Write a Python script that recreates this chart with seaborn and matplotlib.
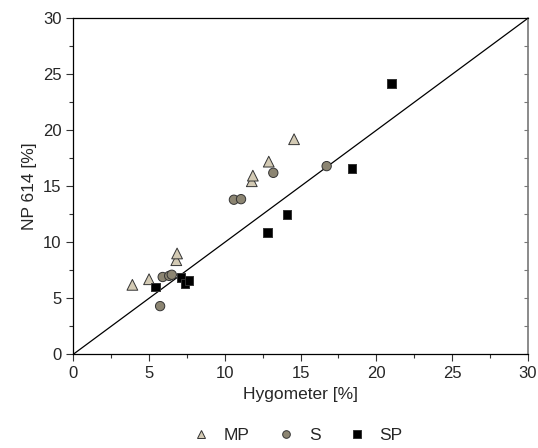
import pandas as pd
import numpy as np
import matplotlib
matplotlib.use("Agg")
import matplotlib.pyplot as plt
from matplotlib.ticker import MultipleLocator
import seaborn as sns

sns.set_style("white")
plt.rcParams['font.family'] = ['Liberation Sans', 'DejaVu Sans']

# data
mp_x = [3.9, 5.0, 6.8, 6.85, 11.78, 11.85, 12.9, 14.57]
mp_y = [6.2, 6.7, 8.4, 9.0, 15.45, 15.95, 17.2, 19.2]
s_x = [5.73, 5.9, 6.33, 6.5, 10.6, 11.07, 13.2, 16.72]
s_y = [4.3, 6.9, 7.0, 7.1, 13.8, 13.85, 16.2, 16.8]
sp_x = [5.43, 7.12, 7.38, 7.65, 12.83, 14.1, 18.4, 21.0]
sp_y = [6.0, 6.85, 6.3, 6.6, 10.85, 12.5, 16.6, 24.2]

groups = ['MP', 'S', 'SP']
df = pd.concat([
    pd.DataFrame({'x': mp_x, 'y': mp_y, 'g': 'MP'}),
    pd.DataFrame({'x': s_x, 'y': s_y, 'g': 'S'}),
    pd.DataFrame({'x': sp_x, 'y': sp_y, 'g': 'SP'}),
])

palette = {'MP': '#d3cab4', 'S': '#8c8572', 'SP': '#000000'}
markers = {'MP': '^', 'S': 'o', 'SP': 's'}
sizes = {'MP': 60, 'S': 45, 'SP': 38}

fig = plt.figure(figsize=(5.38, 4.48), dpi=100)
ax = fig.add_axes([0.1362, 0.2092, 0.845, 0.75])

ax.plot([0, 30], [0, 30], color='black', lw=0.9, zorder=1)
sns.scatterplot(data=df, x='x', y='y', hue='g', style='g', size='g',
                hue_order=groups, style_order=groups, size_order=groups,
                palette=palette, markers=markers, sizes=sizes,
                edgecolor='#333333', linewidth=0.7, ax=ax, zorder=3,
                legend=False)

ax.set_xlim(0, 30)
ax.set_ylim(0, 30)
ax.xaxis.set_major_locator(MultipleLocator(5))
ax.yaxis.set_major_locator(MultipleLocator(5))
ax.xaxis.set_minor_locator(MultipleLocator(2.5))
ax.yaxis.set_minor_locator(MultipleLocator(2.5))
ax.tick_params(which='both', direction='out', bottom=True, left=True,
               top=False, right=False, labelsize=12, color='#333333')
ax.tick_params(which='major', length=5, width=0.8)
ax.tick_params(which='minor', length=3, width=0.8)
for sp in ['left', 'bottom', 'top']:
    ax.spines[sp].set_color('black')
    ax.spines[sp].set_linewidth(0.9)
ax.spines['right'].set_color('#777777')
ax.spines['right'].set_linewidth(1.2)

# inward ticks on the right spine
ax2 = ax.secondary_yaxis('right')
ax2.yaxis.set_major_locator(MultipleLocator(2.5))
ax2.tick_params(direction='in', length=3, color='#777777', labelright=False)
ax2.spines['right'].set_visible(False)

ax.set_xlabel('Hygometer [%]', fontsize=12.5)
ax.set_ylabel('NP 614 [%]', fontsize=12.5)

# legend below
handles = [plt.Line2D([], [], ls='none', marker=markers[g], markersize=5.5,
                      markerfacecolor=palette[g], markeredgecolor='#333333',
                      markeredgewidth=0.7) for g in groups]
fig.legend(handles, groups, loc='center', bbox_to_anchor=(0.553, 0.029),
           ncol=3, frameon=False, fontsize=12.5, handletextpad=0.8,
           columnspacing=1.6, handlelength=1.0)

fig.savefig('out.png', dpi=100)
